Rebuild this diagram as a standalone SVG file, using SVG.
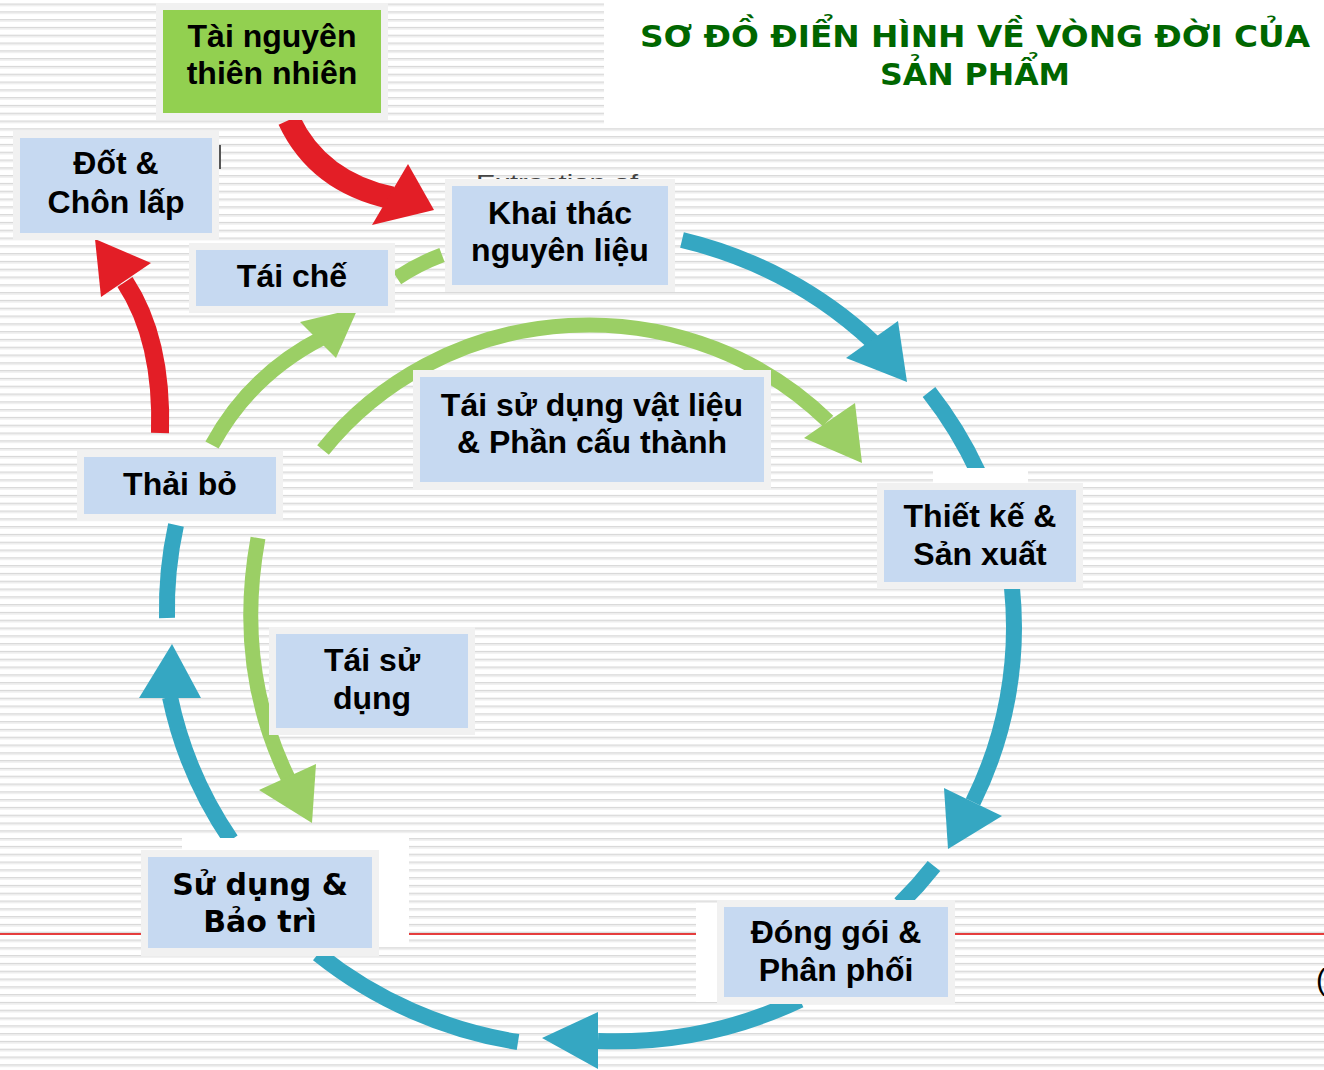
<svg xmlns="http://www.w3.org/2000/svg" width="1324" height="1070" viewBox="0 0 1324 1070">
  <defs>
    <pattern id="stripes" width="20" height="7.8" patternUnits="userSpaceOnUse" patternTransform="translate(0,3.5)">
      <rect width="20" height="7.8" fill="#ffffff"/>
      <rect y="0" width="20" height="1.3" fill="#d6d6d6"/>
      <rect y="1.3" width="20" height="1.3" fill="#ebebeb"/>
    </pattern>
    <clipPath id="extClip">
      <rect x="440" y="160" width="240" height="19"/>
    </clipPath>
  </defs>
  <style>
    .frame { fill: #f1f1f1; }
    .box { fill: #c6d9f1; }
    .green { fill: #92d050; }
    .lbl { font-family: "Liberation Sans", Arial, sans-serif; font-weight: bold; font-size: 32px; fill: #000; text-anchor: middle; }
    .lbl2 { font-family: "DejaVu Sans", Verdana, sans-serif; font-weight: bold; font-size: 30px; fill: #000; text-anchor: middle; }
    .title { font-family: "DejaVu Sans", Verdana, sans-serif; font-weight: bold; font-size: 31px; fill: #006600; text-anchor: middle; }
    .blue { fill: none; stroke: #35a7c2; stroke-width: 16; }
    .blueh { fill: #35a7c2; }
    .gr { fill: none; stroke: #9bcf65; stroke-width: 15; }
    .grh { fill: #9bcf65; }
    .red { fill: none; stroke: #e31e26; }
    .redh { fill: #e31e26; }
  </style>

  <rect width="1324" height="1070" fill="url(#stripes)"/>
  <rect x="604" y="0" width="720" height="125" fill="#ffffff"/>
  <line x1="0" y1="934" x2="1324" y2="934" stroke="#e00000" stroke-width="1.5"/>
  <line x1="157" y1="12" x2="157" y2="36" stroke="#9a9a9a" stroke-width="2"/>
  <line x1="157" y1="63" x2="157" y2="80" stroke="#9a9a9a" stroke-width="2"/>
  <line x1="220" y1="145" x2="220" y2="169" stroke="#555" stroke-width="2"/>
  <g clip-path="url(#extClip)">
    <text x="476" y="190" font-family="Liberation Sans, Arial, sans-serif" font-size="22" fill="#444" textLength="162" lengthAdjust="spacingAndGlyphs">Extraction of</text>
  </g>
  <text x="1316" y="990" font-family="Liberation Sans, Arial, sans-serif" font-size="30" fill="#000">(</text>

  <g id="title">
    <text class="title" x="975" y="47" textLength="670" lengthAdjust="spacingAndGlyphs">SƠ ĐỒ ĐIỂN HÌNH VỀ VÒNG ĐỜI CỦA</text>
    <text class="title" x="975" y="85" textLength="190" lengthAdjust="spacingAndGlyphs">SẢN PHẨM</text>
  </g>

  <g id="connectors">
    <!-- red arrows -->
    <path class="red" stroke-width="23" d="M 289 120 Q 318 182 392 198"/>
    <polygon class="redh" points="408,164 434,210 372,225"/>
    <path class="red" stroke-width="18" d="M 160 433 C 162 370 150 320 125 282"/>
    <polygon class="redh" points="95,239 151,263 101,297"/>

    <!-- blue cycle -->
    <path class="blue" d="M 682 240 A 420 405 0 0 1 873 342"/>
    <polygon class="blueh" points="846,358 898,321 907,382"/>
    <path class="blue" d="M 929 392 A 420 405 0 0 1 978 472"/>
    <path class="blue" d="M 1012 588 A 420 405 0 0 1 973 802"/>
    <polygon class="blueh" points="944,788 1002,816 948,849"/>
    <path class="blue" d="M 934 866 A 420 405 0 0 1 900 904"/>
    <path class="blue" d="M 800 1000 A 420 405 0 0 1 598 1041"/>
    <polygon class="blueh" points="598,1012 598,1069 542,1038"/>
    <path class="blue" d="M 518 1042 A 420 405 0 0 1 318 954"/>
    <path class="blue" d="M 231 840 A 420 405 0 0 1 170 697"/>
    <polygon class="blueh" points="139,698 201,698 172,644"/>
    <path class="blue" d="M 167 618 A 420 405 0 0 1 176 525"/>

    <!-- green arrows -->
    <path class="gr" stroke-width="16" d="M 323 450 A 335 320 0 0 1 828 421"/>
    <polygon class="grh" points="804,438 855,403 862,463"/>
    <path class="gr" d="M 258 538 C 243 620 250 700 288 778"/>
    <polygon class="grh" points="259,790 316,764 312,823"/>
    <path class="gr" d="M 212 445 Q 250 375 322 338"/>
    <polygon class="grh" points="300,322 358,308 336,358"/>
    <path class="gr" d="M 397 278 Q 418 264 442 255"/>
  </g>

  <g id="node-tai-nguyen">
    <rect class="frame" x="156" y="3" width="232" height="117"/>
    <rect class="green" x="163" y="10" width="218" height="103"/>
    <text class="lbl" x="272" y="47">Tài nguyên</text>
    <text class="lbl" x="272" y="84">thiên nhiên</text>
  </g>

  <g id="node-dot-chon-lap">
    <rect class="frame" x="13" y="131" width="206" height="109"/>
    <rect class="box" x="20" y="138" width="192" height="95"/>
    <text class="lbl" x="116" y="174">Đốt &amp;</text>
    <text class="lbl" x="116" y="213">Chôn lấp</text>
  </g>

  <g id="node-khai-thac">
    <rect class="frame" x="445" y="179" width="230" height="113"/>
    <rect class="box" x="452" y="186" width="216" height="99"/>
    <text class="lbl" x="560" y="224">Khai thác</text>
    <text class="lbl" x="560" y="261">nguyên liệu</text>
  </g>

  <g id="node-tai-che">
    <rect class="frame" x="189" y="243" width="206" height="70"/>
    <rect class="box" x="196" y="250" width="192" height="56"/>
    <text class="lbl" x="292" y="287">Tái chế</text>
  </g>

  <g id="node-tai-su-dung-vat-lieu">
    <rect class="frame" x="413" y="370" width="358" height="119"/>
    <rect class="box" x="420" y="377" width="344" height="105"/>
    <text class="lbl" x="592" y="416">Tái sử dụng vật liệu</text>
    <text class="lbl" x="592" y="453">&amp; Phần cấu thành</text>
  </g>

  <g id="node-thai-bo">
    <rect class="frame" x="77" y="450" width="206" height="71"/>
    <rect class="box" x="84" y="457" width="192" height="57"/>
    <text class="lbl" x="180" y="495">Thải bỏ</text>
  </g>

  <g id="node-thiet-ke">
    <rect fill="#ffffff" x="933" y="468" width="95" height="16"/>
    <rect class="frame" x="877" y="483" width="206" height="106"/>
    <rect class="box" x="884" y="490" width="192" height="92"/>
    <text class="lbl" x="980" y="527">Thiết kế &amp;</text>
    <text class="lbl" x="980" y="565">Sản xuất</text>
  </g>

  <g id="node-tai-su-dung">
    <rect class="frame" x="269" y="627" width="206" height="108"/>
    <rect class="box" x="276" y="634" width="192" height="94"/>
    <text class="lbl" x="372" y="671">Tái sử</text>
    <text class="lbl" x="372" y="709">dụng</text>
  </g>

  <g id="node-su-dung">
    <rect fill="#ffffff" x="182" y="838" width="227" height="106"/>
    <rect class="frame" x="141" y="850" width="238" height="106"/>
    <rect class="box" x="148" y="857" width="224" height="91"/>
    <text class="lbl2" x="260" y="895">Sử dụng &amp;</text>
    <text class="lbl2" x="260" y="932">Bảo trì</text>
  </g>

  <g id="node-dong-goi">
    <rect fill="#ffffff" x="696" y="903" width="24" height="99"/>
    <rect class="frame" x="717" y="900" width="238" height="104"/>
    <rect class="box" x="724" y="907" width="224" height="90"/>
    <text class="lbl" x="836" y="943">Đóng gói &amp;</text>
    <text class="lbl" x="836" y="981">Phân phối</text>
  </g>
</svg>
